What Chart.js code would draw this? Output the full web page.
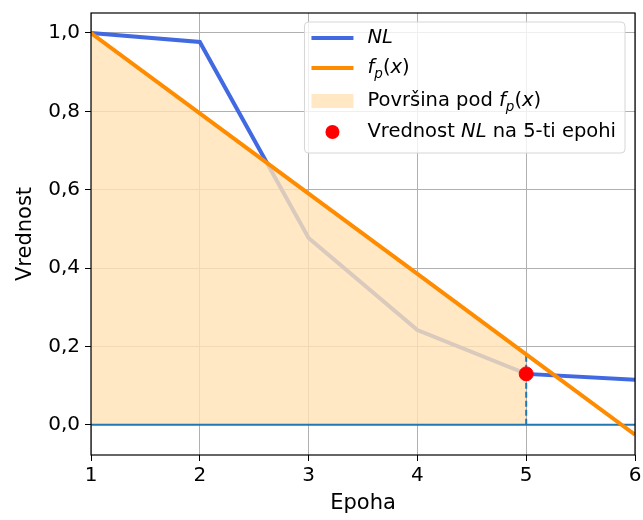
<!DOCTYPE html>
<html>
<head>
<meta charset="utf-8">
<script src="https://cdn.jsdelivr.net/npm/chart.js@4.4.0/dist/chart.umd.min.js"></script>
<style>
  html, body { margin: 0; padding: 0; background: #fff; }
  #wrap { width: 643px; height: 520px; }
</style>
</head>
<body>
<div id="wrap"><canvas id="myChart" width="643" height="520"></canvas></div>
<script>
// values
const epochs = [1, 2, 3, 4, 5, 6];
const nlValues = [1.0, 0.977, 0.477, 0.242, 0.13, 0.115];
const fpValues = [1.0, 0.795, 0.59, 0.385, 0.18, -0.025];
const fillEpochs = [1, 2, 3, 4, 5];
const markEpoch = 5;
const markValue = 0.13;
const yTicks = [0.0, 0.2, 0.4, 0.6, 0.8, 1.0];
const yTickLabels = ['0,0', '0,2', '0,4', '0,6', '0,8', '1,0'];
const xTicks = [1, 2, 3, 4, 5, 6];

const nlColor = '#4169e1';
const fpColor = '#ff8c00';
const fillColor = 'rgba(255, 226, 180, 0.8)';
const refColor = '#1f77b4';
const FONT = "'DejaVu Sans', sans-serif";

const pts = (xs, ys) => xs.map((x, i) => ({x: x, y: ys[i]}));

// legend drawn inside the plot, like the original
const legendRows = [
  {kind: 'line', color: nlColor, parts: [{t: 'NL', it: true}]},
  {kind: 'line', color: fpColor, parts: [{t: 'f', it: true}, {t: 'p', it: true, sub: true}, {t: '('}, {t: 'x', it: true}, {t: ')'}]},
  {kind: 'patch', color: fillColor, parts: [{t: 'Površina pod '}, {t: 'f', it: true}, {t: 'p', it: true, sub: true}, {t: '('}, {t: 'x', it: true}, {t: ')'}]},
  {kind: 'dot', color: 'red', parts: [{t: 'Vrednost '}, {t: 'NL', it: true}, {t: ' na 5-ti epohi'}]}
];

function partFont(p) {
  const size = p.sub ? 13.5 : 19.5;
  return (p.it ? 'italic ' : '') + size + 'px ' + FONT;
}

const boxLegend = {
  id: 'boxLegend',
  afterDraw(chart) {
    const ctx = chart.ctx;
    const area = chart.chartArea;
    ctx.save();
    // frame round the plot
    ctx.strokeStyle = '#000';
    ctx.lineWidth = 1.2;
    ctx.strokeRect(area.left, area.top, area.right - area.left, area.bottom - area.top);

    let maxW = 0;
    legendRows.forEach(r => {
      let w = 0;
      r.parts.forEach(p => { ctx.font = partFont(p); w += ctx.measureText(p.t).width; });
      maxW = Math.max(maxW, w);
    });
    const rowYs = [16, 46, 79, 110];
    const w = 63 + maxW + 9;
    const h = 131;
    const x0 = area.right - 10 - w;
    const y0 = area.top + 9;

    ctx.beginPath();
    ctx.roundRect(x0, y0, w, h, 4);
    ctx.fillStyle = 'rgba(255,255,255,0.8)';
    ctx.fill();
    ctx.strokeStyle = '#d6d6d6';
    ctx.lineWidth = 1;
    ctx.stroke();

    legendRows.forEach((r, i) => {
      const cy = y0 + rowYs[i];
      const hx = x0 + 7;
      if (r.kind === 'line') {
        ctx.strokeStyle = r.color;
        ctx.lineWidth = 4;
        ctx.beginPath();
        ctx.moveTo(hx, cy);
        ctx.lineTo(hx + 42, cy);
        ctx.stroke();
      } else if (r.kind === 'patch') {
        ctx.fillStyle = r.color;
        ctx.fillRect(hx, cy - 7, 42, 14);
      } else {
        ctx.fillStyle = r.color;
        ctx.beginPath();
        ctx.arc(hx + 21, cy, 7, 0, Math.PI * 2);
        ctx.fill();
      }
      let tx = x0 + 63;
      ctx.fillStyle = '#000';
      ctx.textBaseline = 'middle';
      ctx.textAlign = 'left';
      r.parts.forEach(p => {
        ctx.font = partFont(p);
        ctx.fillText(p.t, tx, cy + (p.sub ? 6 : 0));
        tx += ctx.measureText(p.t).width;
      });
    });
    ctx.restore();
  }
};

Chart.defaults.font.family = FONT;
Chart.defaults.color = '#000';

const ctx = document.getElementById('myChart');
const myChart = new Chart(ctx, {
  type: 'line',
  data: {
    datasets: [
      {
        label: 'Vrednost NL na 5-ti epohi',
        type: 'scatter',
        data: [{x: markEpoch, y: markValue}],
        backgroundColor: 'red',
        borderColor: 'red',
        pointRadius: 7,
        order: 1
      },
      {
        label: 'f_p(x)',
        data: pts(epochs, fpValues),
        borderColor: fpColor,
        borderWidth: 4,
        pointRadius: 0,
        order: 2
      },
      {
        label: 'vline',
        data: [{x: markEpoch, y: 0}, {x: markEpoch, y: fpValues[epochs.indexOf(markEpoch)]}],
        borderColor: refColor,
        borderWidth: 2,
        borderDash: [6, 3],
        pointRadius: 0,
        order: 3
      },
      {
        label: 'hline',
        data: [{x: epochs[0], y: 0}, {x: epochs[epochs.length - 1], y: 0}],
        borderColor: refColor,
        borderWidth: 2,
        pointRadius: 0,
        order: 4
      },
      {
        label: 'Površina pod f_p(x)',
        data: pts(fillEpochs, fpValues),
        borderWidth: 0,
        borderColor: 'rgba(0,0,0,0)',
        backgroundColor: fillColor,
        fill: 'origin',
        pointRadius: 0,
        order: 5
      },
      {
        label: 'NL',
        data: pts(epochs, nlValues),
        borderColor: nlColor,
        borderWidth: 4,
        pointRadius: 0,
        order: 6
      }
    ]
  },
  options: {
    responsive: false,
    animation: false,
    layout: { padding: { left: 0, right: 8, top: 13, bottom: 0 } },
    plugins: {
      legend: { display: false },
      tooltip: { enabled: false }
    },
    scales: {
      x: {
        type: 'linear',
        min: 1,
        max: 6,
        afterBuildTicks: s => { s.ticks = xTicks.map(v => ({value: v})); },
        afterFit: s => { s.height = 65; s.paddingLeft = 0; s.paddingRight = 0; },
        ticks: { font: { size: 20 }, padding: 3, maxRotation: 0, callback: v => String(v) },
        grid: { color: '#b0b0b0', tickColor: '#000', tickLength: 6, lineWidth: 1 },
        border: { display: false },
        title: { display: true, text: 'Epoha', font: { size: 21 }, padding: { top: 4 } }
      },
      y: {
        type: 'linear',
        min: -0.077,
        max: 1.051,
        afterBuildTicks: s => { s.ticks = yTicks.map(v => ({value: v})); },
        afterFit: s => { s.width = 91; s.paddingTop = 0; s.paddingBottom = 0; },
        ticks: {
          font: { size: 20 },
          padding: 5,
          callback: v => yTickLabels[yTicks.findIndex(t => Math.abs(t - v) < 1e-6)]
        },
        grid: { color: '#b0b0b0', tickColor: '#000', tickLength: 6, lineWidth: 1 },
        border: { display: false },
        title: { display: true, text: 'Vrednost', font: { size: 21 }, padding: { top: 13, bottom: 2 } }
      }
    }
  },
  plugins: [boxLegend]
});
</script>
</body>
</html>
